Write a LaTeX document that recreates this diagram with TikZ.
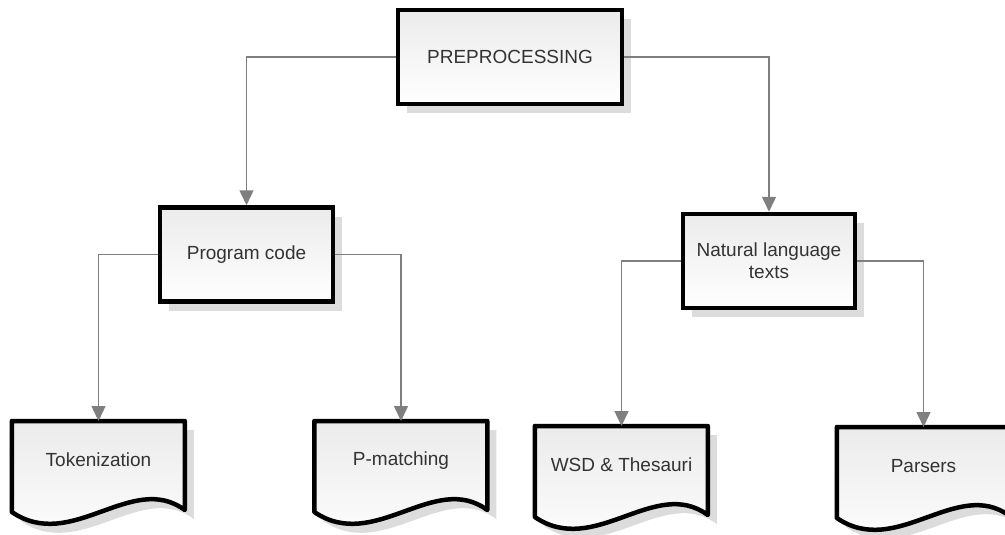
\documentclass[tikz,border=0pt]{standalone}
\usepackage{fontspec}
\setmainfont{Liberation Sans}
\usetikzlibrary{arrows.meta,shadows,backgrounds}
\definecolor{txtgray}{HTML}{333333}
\definecolor{linegray}{HTML}{7F7F7F}
\definecolor{shadowgray}{HTML}{DCDCDC}
\definecolor{fillgray}{HTML}{EBEBEB}
\begin{document}
\begin{tikzpicture}[x=1pt,y=1pt,
    box/.style={draw=black,line width=4.5pt,top color=fillgray,bottom color=white,
      drop shadow={shadow xshift=9pt,shadow yshift=-9pt,fill=shadowgray,opacity=1},
      text=txtgray,font=\fontsize{19}{22}\selectfont,align=center,
      inner sep=0pt,minimum width=#1,minimum height=94pt},
    box/.default=173pt,
    docnode/.style={inner sep=0pt,minimum width=173pt,minimum height=78pt,anchor=north,
      text=txtgray,font=\fontsize{19}{22}\selectfont},
    docpath/.style={insert path={(0,0) -- (173,0) -- (173,-89)
      .. controls (120,-50) and (60,-132) .. (0,-91) -- cycle}},
    link/.style={draw=linegray,line width=1.5pt,
      -{Triangle[length=15pt,width=14pt]}}]
  \useasboundingbox (0,0) rectangle (1005,-535);
  \node[box=224pt] (pre) at (510,-57) {PREPROCESSING};
  \node[box] (prog) at (246.5,-254.5) {Program code};
  \node[box=172pt] (nat) at (769,-261) {Natural language\\texts};
  \node[docnode] (tok) at (98.5,-421) {Tokenization};
  \node[docnode] (pmat) at (401,-421) {P-matching};
  \node[docnode] (wsd) at (621.5,-426) {WSD \& Thesauri};
  \node[docnode] (pars) at (923.5,-427) {Parsers};
  \foreach \n in {tok,pmat,wsd,pars} {
    \begin{scope}[on background layer,shift={(\n.north west)}]
      \fill[shadowgray,xshift=9pt,yshift=-9pt,docpath];
      \draw[line width=4.5pt,line join=round,top color=fillgray,bottom color=white,docpath];
    \end{scope}
  }
  \draw[link] (pre.west) -| (prog.north);
  \draw[link] (pre.east) -| (nat.north);
  \draw[link] (prog.west) -| (tok.north);
  \draw[link] (prog.east) -| (pmat.north);
  \draw[link] (nat.west) -| (wsd.north);
  \draw[link] (nat.east) -| (pars.north);
\end{tikzpicture}
\end{document}
